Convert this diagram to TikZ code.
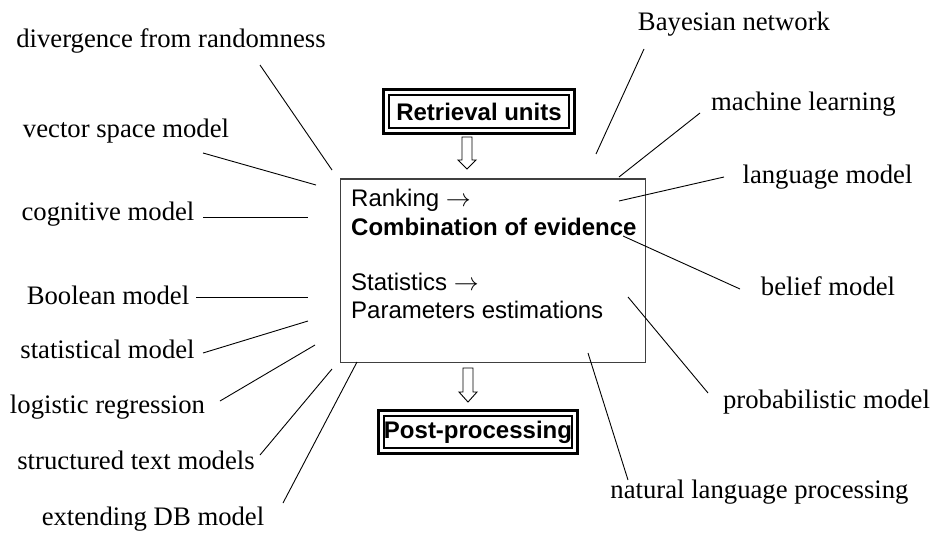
\documentclass[tikz,border=0pt]{standalone}
\usepackage{fontspec}
\usetikzlibrary{calc}
\setmainfont{Liberation Serif}
\newfontfamily\arialfont{Liberation Sans}
\begin{document}
\begin{tikzpicture}[x=1pt,y=-1pt,
  lbl/.style={anchor=base,inner sep=0pt,font=\fontsize{26.7}{31}\selectfont},
  boxtxt/.style={anchor=base west,inner sep=0pt,font=\arialfont\fontsize{24}{28}\selectfont},
  stagebox/.style={draw,line width=1.2pt,inner sep=0pt,font=\arialfont\bfseries\fontsize{24}{28}\selectfont},
  link/.style={line width=0.9pt},
  hollowarrow/.style={draw,line width=0.9pt,fill=white}]
\useasboundingbox (0,0) rectangle (935,533);

% central box
\node[draw=black!75,line width=1.3pt,minimum width=305pt,minimum height=183.5pt,inner sep=0pt] (core) at (493,270.75) {};
\node[boxtxt] (rank) at (351,206) {Ranking $\rightarrow$};
\node[boxtxt,font=\arialfont\bfseries\fontsize{24}{28}\selectfont] (comb) at (351,235) {Combination of evidence};
\node[boxtxt] (stat) at (351,290) {Statistics $\rightarrow$};
\node[boxtxt] (param) at (351,318) {Parameters estimations};

% stage boxes with a heavy outer frame
\node[stagebox,minimum width=180pt,minimum height=33pt] (ru) at (479,111.5) {Retrieval units};
\draw[line width=3.5pt] ([xshift=-4.8pt,yshift=4.8pt]ru.north west) rectangle ([xshift=4.8pt,yshift=-4.8pt]ru.south east);
\node[stagebox,minimum width=186pt,minimum height=32pt] (pp) at (478,432) {Post-processing};
\draw[line width=3.5pt] ([xshift=-4.8pt,yshift=4.8pt]pp.north west) rectangle ([xshift=4.8pt,yshift=-4.8pt]pp.south east);

% hollow flow arrows
\coordinate (a1) at (467,137);
\coordinate (a2) at (468,368);
\draw[hollowarrow] ($(a1)+(-5,0)$) -- ++(10,0) -- ++(0,23) -- ++(4,0) -- ++(-9,9) -- ++(-9,-9) -- ++(4,0) -- cycle;
\draw[hollowarrow] ($(a2)+(-5,0)$) -- ++(10,0) -- ++(0,24) -- ++(4,0) -- ++(-9,10) -- ++(-9,-10) -- ++(4,0) -- cycle;

% labels, left side
\node[lbl] (dfr) at (171,47) {divergence from randomness};
\node[lbl] (vsm) at (126,137) {vector space model};
\node[lbl] (cog) at (108,220) {cognitive model};
\node[lbl] (bool) at (108,304) {Boolean model};
\node[lbl] (stm) at (107.5,358) {statistical model};
\node[lbl] (logr) at (107.5,413) {logistic regression};
\node[lbl] (stx) at (136,469) {structured text models};
\node[lbl] (edb) at (153,525) {extending DB model};
% labels, right side
\node[lbl] (bay) at (734,30) {Bayesian network};
\node[lbl] (ml) at (803.5,110) {machine learning};
\node[lbl] (lm) at (827.5,183) {language model};
\node[lbl] (bel) at (828,295) {belief model};
\node[lbl] (prob) at (826.5,408) {probabilistic model};
\node[lbl] (nlp) at (759.5,498) {natural language processing};

% connector end points
\coordinate (dfr-a) at (260,65);   \coordinate (dfr-b) at (332,170);
\coordinate (vsm-a) at (203,153);  \coordinate (vsm-b) at (316,185);
\coordinate (cog-a) at (203,217);  \coordinate (cog-b) at (308,217);
\coordinate (bool-a) at (196,297); \coordinate (bool-b) at (308,297);
\coordinate (stm-a) at (203,353);  \coordinate (stm-b) at (308,321);
\coordinate (logr-a) at (220,401); \coordinate (logr-b) at (315,345);
\coordinate (stx-a) at (260,455);  \coordinate (stx-b) at (332,369);
\coordinate (edb-a) at (283,503);  \coordinate (edb-b) at (357,362);
\coordinate (bay-a) at (644,49);   \coordinate (bay-b) at (596,154);
\coordinate (ml-a) at (700,113);   \coordinate (ml-b) at (619,177);
\coordinate (lm-a) at (724,177);   \coordinate (lm-b) at (619,201);
\coordinate (bel-a) at (740,289);  \coordinate (bel-b) at (623,236);
\coordinate (prob-a) at (708,393); \coordinate (prob-b) at (628,297);
\coordinate (nlp-a) at (628,480);  \coordinate (nlp-b) at (588,353);

\foreach \n in {dfr,vsm,cog,bool,stm,logr,stx,edb,bay,ml,lm,bel,prob,nlp}
  \draw[link] (\n-a) -- (\n-b);
\end{tikzpicture}
\end{document}
